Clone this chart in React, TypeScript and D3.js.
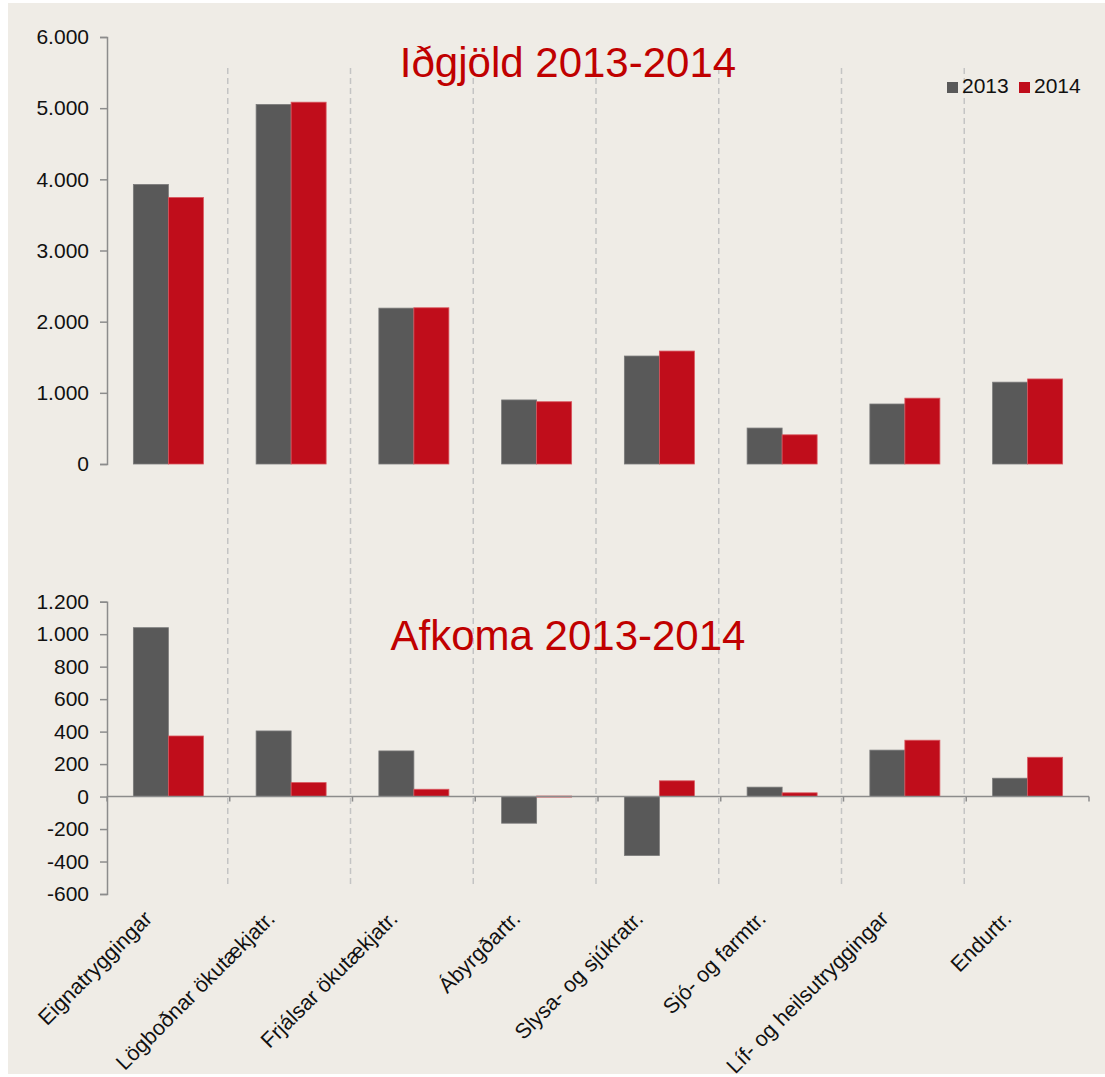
import React, { useEffect, useRef } from 'react';
import * as d3 from 'd3';

const categories = [
  'Eignatryggingar',
  'Lögboðnar ökutækjatr.',
  'Frjálsar ökutækjatr.',
  'Ábyrgðartr.',
  'Slysa- og sjúkratr.',
  'Sjó- og farmtr.',
  'Líf- og heilsutryggingar',
  'Endurtr.',
];
const years = ['2013', '2014'];
const premiums2013 = [3928, 5052, 2190, 900, 1517, 505, 843, 1150];
const premiums2014 = [3745, 5084, 2195, 875, 1587, 410, 925, 1195];
const result2013 = [1040, 404, 281, -164, -363, 58, 286, 113];
const result2014 = [373, 86, 45, 3, 97, 23, 347, 242];
const premiumTicks = [0, 1000, 2000, 3000, 4000, 5000, 6000];
const resultTicks = [-600, -400, -200, 0, 200, 400, 600, 800, 1000, 1200];

const WIDTH = 1105;
const HEIGHT = 1077;
const FONT = "'Liberation Sans', Arial, sans-serif";
const colors = { '2013': '#595959', '2014': '#c00d1b' };

const App = () => {
  const svgRef = useRef(null);

  useEffect(() => {
    const svg = d3.select(svgRef.current);
    svg.selectAll('*').remove();

    const loc = d3.formatLocale({ decimal: ',', thousands: '.', grouping: [3], currency: ['', ''], minus: '-' });
    const fmt = loc.format(',d');

    svg.append('rect')
      .attr('x', 8).attr('y', 3)
      .attr('width', WIDTH - 8).attr('height', 1071)
      .attr('fill', '#efece6');

    const left = 107, right = 1089;
    const x0 = d3.scaleBand().domain(categories).range([left, right]).paddingInner(0).paddingOuter(0);
    const bw = x0.bandwidth();
    const x1 = d3.scaleBand().domain(years).range([bw / 2 - 35, bw / 2 + 35]);

    // dashed separators between categories
    svg.append('g')
      .selectAll('line')
      .data(categories.slice(1))
      .enter()
      .append('line')
      .attr('x1', d => x0(d) - 2)
      .attr('x2', d => x0(d) - 2)
      .attr('y1', 68)
      .attr('y2', 885)
      .attr('stroke', '#c4c4c4')
      .attr('stroke-width', 1.5)
      .attr('stroke-dasharray', '6,4');

    const drawPanel = (vals2013, vals2014, domain, range, ticks, title, titleY, withXAxis) => {
      const y = d3.scaleLinear().domain(domain).range(range);
      const rows = categories.map((c, i) => ({ c, v: { '2013': vals2013[i], '2014': vals2014[i] } }));

      const yAxis = svg.append('g')
        .attr('transform', `translate(${left},0)`)
        .call(d3.axisLeft(y).tickValues(ticks).tickSize(7).tickPadding(11).tickFormat(fmt));
      yAxis.select('.domain').attr('stroke', '#8c8c8c').attr('stroke-width', 1.5);
      yAxis.selectAll('.tick line').attr('stroke', '#8c8c8c').attr('stroke-width', 1.5);
      yAxis.selectAll('text')
        .attr('fill', '#111')
        .style('font-size', '21px')
        .style('font-family', FONT);

      const groups = svg.append('g')
        .selectAll('g')
        .data(rows)
        .enter()
        .append('g')
        .attr('transform', d => `translate(${x0(d.c)},0)`);

      groups.selectAll('rect')
        .data(d => years.map(k => ({ k, v: d.v[k] })))
        .enter()
        .append('rect')
        .attr('x', d => x1(d.k))
        .attr('width', x1.bandwidth())
        .attr('y', d => y(Math.max(0, d.v)))
        .attr('height', d => Math.max(1, Math.abs(y(d.v) - y(0))))
        .attr('fill', d => colors[d.k])
        .attr('stroke', d => (d.k === '2013' ? '#7a7a7a' : '#d9565e'))
        .attr('stroke-width', 0.8);

      if (withXAxis) {
        const xa = svg.append('g').attr('transform', `translate(0,${y(0)})`);
        xa.append('line')
          .attr('x1', left).attr('x2', right)
          .attr('stroke', '#8c8c8c').attr('stroke-width', 1.5);
        xa.selectAll('.tk')
          .data([...categories.map(c => x0(c)), right])
          .enter()
          .append('line')
          .attr('x1', d => d).attr('x2', d => d)
          .attr('y1', 0).attr('y2', 5)
          .attr('stroke', '#8c8c8c').attr('stroke-width', 1.5);
      }

      svg.append('text')
        .attr('x', 568)
        .attr('y', titleY)
        .attr('text-anchor', 'middle')
        .attr('fill', '#c00000')
        .style('font-family', FONT)
        .style('font-size', '42px')
        .text(title);
    };

    drawPanel(premiums2013, premiums2014, [0, 6000], [464, 37], premiumTicks, 'Iðgjöld 2013-2014', 77, false);
    drawPanel(result2013, result2014, [-600, 1200], [894, 601.7], resultTicks, 'Afkoma 2013-2014', 650, true);

    // category labels
    svg.append('g')
      .selectAll('text')
      .data(categories)
      .enter()
      .append('text')
      .attr('transform', d => `translate(${x0(d) + bw / 2 - 15},920) rotate(-45)`)
      .attr('text-anchor', 'end')
      .attr('fill', '#111')
      .style('font-family', FONT)
      .style('font-size', '21.5px')
      .text(d => d);

    // legend
    const legend = svg.append('g').attr('transform', 'translate(947,82)');
    const items = legend.selectAll('g')
      .data(years)
      .enter()
      .append('g')
      .attr('transform', (d, i) => `translate(${i * 72},0)`);
    items.append('rect')
      .attr('width', 11).attr('height', 11)
      .attr('fill', d => colors[d]);
    items.append('text')
      .attr('x', 15).attr('y', 11)
      .attr('fill', '#111')
      .style('font-family', FONT)
      .style('font-size', '21px')
      .text(d => d);
  }, []);

  return (
    <svg
      ref={svgRef}
      width={WIDTH}
      height={HEIGHT}
      style={{ position: 'absolute', left: 0, top: 0, display: 'block', background: '#fff' }}
    ></svg>
  );
};

export default App;
